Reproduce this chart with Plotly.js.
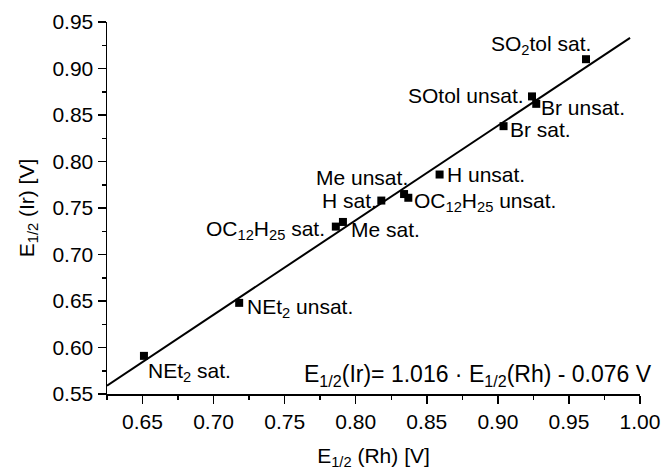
<!DOCTYPE html>
<html>
<head>
<meta charset="utf-8">
<script src="https://cdn.plot.ly/plotly-3.0.1.min.js"></script>
<style>html,body{margin:0;padding:0;background:#fff;}#chart{width:663px;height:472px;}</style>
</head>
<body>
<div id="chart"></div>
<script>
// Data
var names = ["SO<sub>2</sub>tol sat.", "SOtol unsat.", "Br unsat.", "Br sat.", "H unsat.", "Me unsat.",
             "OC<sub>12</sub>H<sub>25</sub> unsat.", "H sat.", "Me sat.", "OC<sub>12</sub>H<sub>25</sub> sat.",
             "NEt<sub>2</sub> unsat.", "NEt<sub>2</sub> sat."];
var e12Rh = [0.962, 0.924, 0.927, 0.904, 0.859, 0.834, 0.837, 0.818, 0.791, 0.786, 0.718, 0.651];
var e12Ir = [0.910, 0.870, 0.862, 0.838, 0.786, 0.765, 0.761, 0.758, 0.735, 0.730, 0.648, 0.591];
var fitX = [0.625, 0.993];
var fitY = [0.559, 0.933];
var xTicks = [0.65, 0.70, 0.75, 0.80, 0.85, 0.90, 0.95, 1.00];
var yTicks = [0.55, 0.60, 0.65, 0.70, 0.75, 0.80, 0.85, 0.90, 0.95];
var equation = "E<sub>1/2</sub>(Ir)= 1.016 · E<sub>1/2</sub>(Rh) - 0.076 V";

// label placement (pixels relative to each marker)
var labelStyle = [
  {xa:"right", dx:7,  dy:14},
  {xa:"right", dx:-6, dy:1},
  {xa:"left",  dx:3,  dy:-4},
  {xa:"left",  dx:4,  dy:-3},
  {xa:"left",  dx:5,  dy:0},
  {xa:"right", dx:6,  dy:17},
  {xa:"left",  dx:4,  dy:-4},
  {xa:"right", dx:-2, dy:0},
  {xa:"left",  dx:6,  dy:-8},
  {xa:"right", dx:-9, dy:-3},
  {xa:"left",  dx:6,  dy:-5},
  {xa:"left",  dx:2,  dy:-16}
];

var FONT = "Liberation Sans, Arial, sans-serif";
var FS = 21;

var annotations = names.map(function (n, i) {
  var s = labelStyle[i];
  return {x: e12Rh[i], y: e12Ir[i], xref: "x", yref: "y", text: n, showarrow: false,
          xanchor: s.xa, yanchor: "middle", xshift: s.dx, yshift: s.dy,
          font: {family: FONT, size: FS, color: "#000"}};
});
annotations.push({x: 1, y: 0.051, xref: "paper", yref: "paper", text: equation, showarrow: false,
                  xanchor: "right", yanchor: "middle", xshift: 14,
                  font: {family: FONT, size: 23, color: "#000"}});

var traces = [
  {x: fitX, y: fitY, mode: "lines", type: "scatter", line: {color: "#000", width: 2}, hoverinfo: "skip"},
  {x: e12Rh, y: e12Ir, mode: "markers", type: "scatter",
   marker: {symbol: "square", size: 8, color: "#000"}}
];

var axisCommon = {
  showgrid: false, zeroline: false, showline: true, linecolor: "#000", linewidth: 1.5,
  ticks: "outside", ticklen: 8, tickwidth: 1.5, tickcolor: "#000", mirror: false,
  tickfont: {family: FONT, size: FS, color: "#000"}, tickformat: ".2f"
};

var layout = {
  width: 663, height: 472, autosize: false,
  margin: {l: 107, r: 23, t: 22, b: 78, pad: 0},
  paper_bgcolor: "#fff", plot_bgcolor: "#fff",
  showlegend: false,
  font: {family: FONT, size: FS, color: "#000"},
  xaxis: Object.assign({}, axisCommon, {
    range: [0.625, 1.0], tickvals: xTicks,
    minor: {dtick: 0.025, tick0: 0.625, ticks: "outside", ticklen: 4, tickwidth: 1.5, tickcolor: "#000"},
    title: {text: "E<sub>1/2</sub> (Rh) [V]", font: {family: FONT, size: FS, color: "#000"}, standoff: 16}
  }),
  yaxis: Object.assign({}, axisCommon, {
    range: [0.55, 0.95], tickvals: yTicks,
    minor: {dtick: 0.025, tick0: 0.55, ticks: "outside", ticklen: 4, tickwidth: 1.5, tickcolor: "#000"},
    title: {text: "E<sub>1/2</sub> (Ir) [V]", font: {family: FONT, size: FS, color: "#000"}, standoff: 12}
  }),
  annotations: annotations
};

Plotly.newPlot("chart", traces, layout, {staticPlot: true, displayModeBar: false});
</script>
</body>
</html>
